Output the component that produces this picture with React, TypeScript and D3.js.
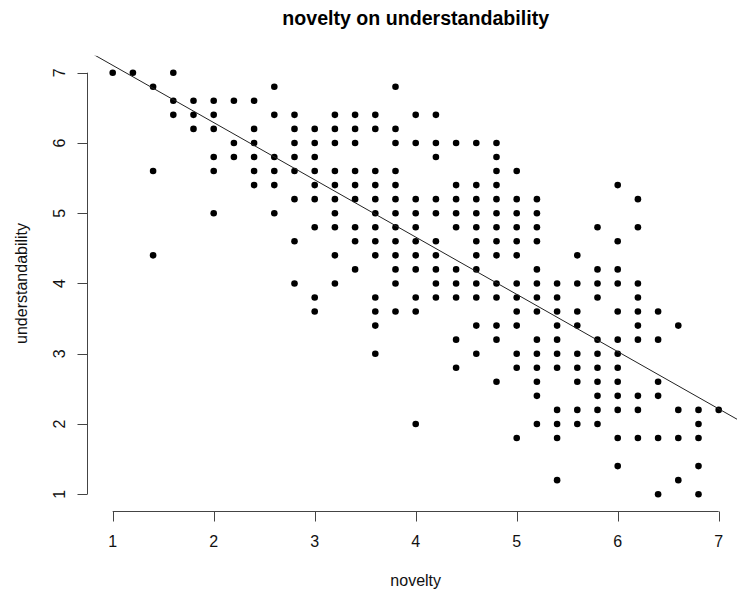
import React from "react";
import * as d3 from "d3";

// ---- data ----
const noveltyValues = [
  1.0, 1.2, 1.4, 1.6, 1.8, 2.0, 2.2, 2.4, 2.6, 2.8, 3.0, 3.2, 3.4, 3.6, 3.8, 4.0,
  4.2, 4.4, 4.6, 4.8, 5.0, 5.2, 5.4, 5.6, 5.8, 6.0, 6.2, 6.4, 6.6, 6.8, 7.0,
];

const understandabilityByNovelty: number[][] = [
  [7.0],
  [7.0],
  [6.8, 5.6, 4.4],
  [7.0, 6.6, 6.4],
  [6.6, 6.4, 6.2],
  [6.6, 6.4, 6.2, 5.8, 5.6, 5.0],
  [6.6, 6.0, 5.8],
  [6.6, 6.2, 6.0, 5.8, 5.6, 5.4],
  [6.8, 6.4, 5.8, 5.6, 5.4, 5.0],
  [6.4, 6.2, 6.0, 5.8, 5.6, 5.2, 4.6, 4.0],
  [6.2, 6.0, 5.8, 5.6, 5.4, 5.2, 4.8, 3.8, 3.6],
  [6.4, 6.2, 6.0, 5.6, 5.4, 5.2, 5.0, 4.8, 4.4, 4.0],
  [6.4, 6.2, 6.0, 5.6, 5.4, 5.2, 4.8, 4.6, 4.2],
  [6.4, 6.2, 5.6, 5.4, 5.2, 5.0, 4.8, 4.6, 4.4, 3.8, 3.6, 3.4, 3.0],
  [6.8, 6.2, 6.0, 5.6, 5.4, 5.2, 5.0, 4.8, 4.6, 4.4, 4.2, 4.0, 3.6],
  [6.4, 6.0, 5.2, 5.0, 4.8, 4.6, 4.4, 4.2, 3.8, 3.6, 2.0],
  [6.4, 6.0, 5.8, 5.2, 5.0, 4.6, 4.4, 4.2, 4.0, 3.8],
  [6.0, 5.4, 5.2, 5.0, 4.8, 4.2, 4.0, 3.8, 3.2, 2.8],
  [6.0, 5.4, 5.2, 5.0, 4.8, 4.6, 4.4, 4.2, 4.0, 3.8, 3.4, 3.0],
  [6.0, 5.8, 5.6, 5.4, 5.2, 5.0, 4.8, 4.6, 4.4, 4.0, 3.8, 3.4, 3.2, 2.6],
  [5.6, 5.2, 5.0, 4.8, 4.6, 4.4, 4.0, 3.8, 3.6, 3.4, 3.0, 2.8, 1.8],
  [5.2, 5.0, 4.8, 4.6, 4.2, 4.0, 3.8, 3.6, 3.2, 3.0, 2.8, 2.6, 2.4, 2.0],
  [4.0, 3.8, 3.6, 3.4, 3.2, 3.0, 2.8, 2.2, 2.0, 1.8, 1.2],
  [4.4, 4.0, 3.6, 3.4, 3.0, 2.8, 2.6, 2.2, 2.0],
  [4.8, 4.2, 4.0, 3.8, 3.2, 3.0, 2.8, 2.6, 2.4, 2.2, 2.0],
  [5.4, 4.6, 4.2, 4.0, 3.6, 3.2, 3.0, 2.8, 2.6, 2.4, 2.2, 1.8, 1.4],
  [5.2, 4.8, 4.0, 3.8, 3.6, 3.4, 3.2, 2.4, 2.2, 1.8],
  [3.6, 3.2, 2.6, 2.4, 1.8, 1.0],
  [3.4, 2.2, 1.8, 1.2],
  [2.2, 2.0, 1.8, 1.4, 1.0],
  [2.2],
];

const xTicks = [1, 2, 3, 4, 5, 6, 7];
const yTicks = [1, 2, 3, 4, 5, 6, 7];

// regression line
const fitIntercept = 7.92;
const fitSlope = -0.815;

const title = "novelty on understandability";
const xLabel = "novelty";
const yLabel = "understandability";

export default function App() {
  const W = 737;
  const H = 594;

  const x = d3.scaleLinear().domain([1, 7]).range([112.7, 718.7]);
  const y = d3.scaleLinear().domain([1, 7]).range([494.2, 72.7]);

  // R-style plot region: data range extended by 4%
  const xDom = [0.76, 7.24];
  const yDom = [0.76, 7.24];
  const left = x(xDom[0]);
  const right = x(xDom[1]);
  const top = y(yDom[1]);
  const bottom = y(yDom[0]);

  const points = noveltyValues.flatMap((nv, i) =>
    understandabilityByNovelty[i].map((u) => ({ nv, u }))
  );

  const lineGen = d3
    .line<number>()
    .x((d) => x(d))
    .y((d) => y(fitIntercept + fitSlope * d));

  const font = "Liberation Sans, Arial, Helvetica, sans-serif";
  const axisY = Math.round(bottom) + 0.5;
  const axisX = Math.round(left) - 0.5;

  return (
    <svg
      width={W}
      height={H}
      style={{ position: "absolute", left: 0, top: 0, background: "#fff" }}
      fontFamily={font}
    >
      <defs>
        <clipPath id="plotclip">
          <rect x={left} y={top} width={right - left} height={bottom - top} />
        </clipPath>
      </defs>
      <rect x={0} y={0} width={W} height={H} fill="#fff" />

      {/* title */}
      <text
        x={(left + right) / 2}
        y={25}
        textAnchor="middle"
        fontWeight="bold"
        fontSize={19.6}
        fill="#000"
      >
        {title}
      </text>

      {/* points */}
      <g fill="#000">
        {points.map((p, i) => (
          <circle key={i} cx={x(p.nv)} cy={y(p.u)} r={3.3} />
        ))}
      </g>

      {/* regression line */}
      <path
        d={lineGen(xDom) || ""}
        fill="none"
        stroke="#222"
        strokeWidth={1}
        clipPath="url(#plotclip)"
      />

      {/* x axis */}
      <g stroke="#444" strokeWidth={1} fill="none">
        <line x1={x(xTicks[0])} x2={x(xTicks[xTicks.length - 1])} y1={axisY} y2={axisY} />
        {xTicks.map((t) => (
          <line key={t} x1={Math.round(x(t)) + 0.5} x2={Math.round(x(t)) + 0.5} y1={axisY} y2={axisY + 10} />
        ))}
      </g>
      <g fontSize={16} fill="#111" textAnchor="middle">
        {xTicks.map((t) => (
          <text key={t} x={x(t)} y={547}>
            {t}
          </text>
        ))}
      </g>

      {/* y axis */}
      <g stroke="#444" strokeWidth={1} fill="none">
        <line x1={axisX} x2={axisX} y1={y(yTicks[0])} y2={y(yTicks[yTicks.length - 1])} />
        {yTicks.map((t) => (
          <line key={t} x1={axisX} x2={axisX - 10} y1={Math.round(y(t)) + 0.5} y2={Math.round(y(t)) + 0.5} />
        ))}
      </g>
      <g fontSize={16} fill="#111" textAnchor="middle">
        {yTicks.map((t) => (
          <text key={t} transform={`translate(65,${y(t)}) rotate(-90)`}>
            {t}
          </text>
        ))}
      </g>

      {/* axis labels */}
      <text x={(left + right) / 2} y={586} textAnchor="middle" fontSize={16} fill="#111">
        {xLabel}
      </text>
      <text
        transform={`translate(27,${(top + bottom) / 2}) rotate(-90)`}
        textAnchor="middle"
        fontSize={16}
        fill="#111"
      >
        {yLabel}
      </text>
    </svg>
  );
}
